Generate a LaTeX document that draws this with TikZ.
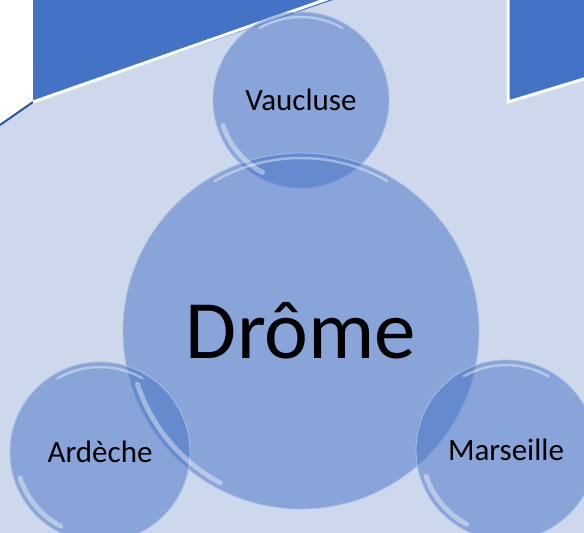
\documentclass[tikz,border=0pt]{standalone}
\usepackage{fontspec}
\setmainfont{Carlito}
\definecolor{slidebg}{HTML}{CDD8ED}
\definecolor{accent}{HTML}{4472C4}
\definecolor{darkaccent}{HTML}{2F5597}
\definecolor{rim}{HTML}{A9BEE6}
\begin{document}
\begin{tikzpicture}[x=1pt,y=1pt,
	bubble/.style={circle,draw=rim,line width=.8pt,fill=accent,fill opacity=.5,
		text opacity=1,inner sep=0pt,font=\fontsize{31}{31}\selectfont},
	glint/.style={white,opacity=.4,line cap=round}]
		\useasboundingbox (0,0) rectangle (584,533);
		\fill[slidebg] (0,0) rectangle (584,533);
		\fill[white] (0,533) -- (33,533) -- (33,431) -- (0,408) -- cycle;
		\draw[darkaccent,line width=2pt] (33,431) -- (0,408);
		\fill[accent] (33,533) -- (333,533) -- (33,431) -- cycle;
		\draw[white,line width=3pt] (333,536) -- (33,431);
		\draw[white,line width=3pt,fill=accent] (508,536) -- (508,431) -- (587,455) -- (587,536);
		\node[bubble,minimum size=176pt] (vaucluse) at (301,433) {Vaucluse};
		\node[bubble,minimum size=356pt,font=\fontsize{83}{83}\selectfont] (drome) at (301,202) {Drôme};
		\node[bubble,minimum size=180pt] (ardeche) at (100,81) {Ardèche};
		\node[bubble,minimum size=180pt] (marseille) at (506,83) {Marseille};
		\foreach \n/\r in {vaucluse/88,drome/178,ardeche/90,marseille/90}{
			\draw[glint,line width=2.5pt] ([shift={(60:\r-5)}]\n.center) arc[start angle=60,end angle=120,radius=\r-5];
			\draw[glint,line width=5pt] ([shift={(198:\r-6)}]\n.center) arc[start angle=198,end angle=242,radius=\r-6];
		}
	\end{tikzpicture}
\end{document}
